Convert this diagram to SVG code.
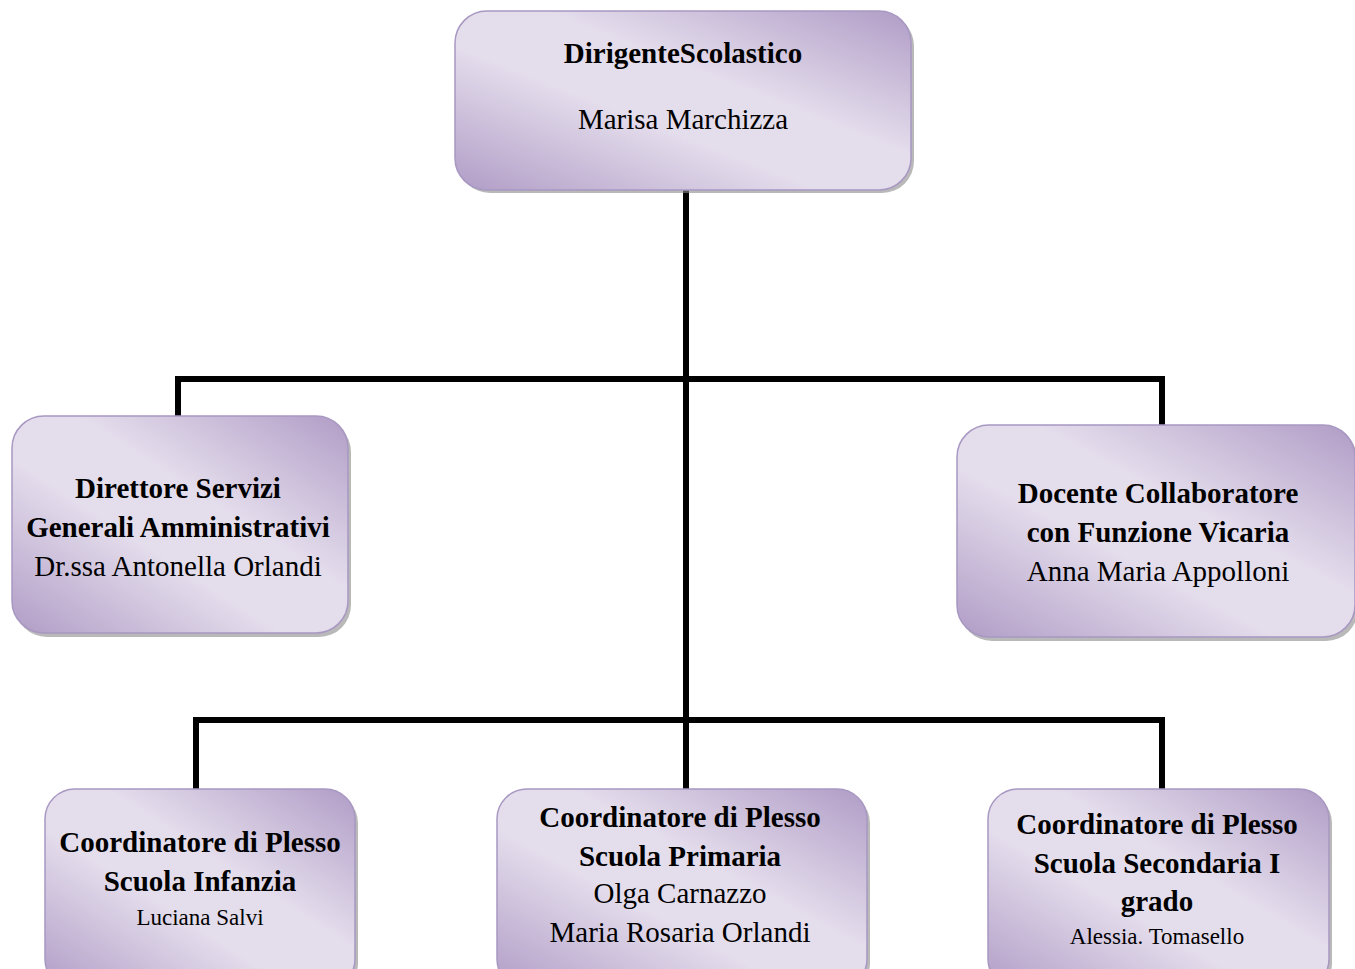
<svg xmlns="http://www.w3.org/2000/svg" width="1355" height="969" viewBox="0 0 1355 969">
<defs>
<linearGradient id="g" x1="0" y1="1" x2="1" y2="0">
<stop offset="0" stop-color="#b09cc6"/>
<stop offset="0.4" stop-color="#e4ddec"/>
<stop offset="0.6" stop-color="#e4ddec"/>
<stop offset="1" stop-color="#b09cc6"/>
</linearGradient>
<style>
.box{fill:url(#g);stroke:#a898c2;stroke-width:1.5}
.sh{fill:#8a8a8a;opacity:0.6}
.t{font-family:"Liberation Serif","Times New Roman",serif;fill:#000;text-anchor:middle}
.b{font-weight:bold;font-size:29px}
.n{font-size:29px}
.s{font-size:23px}
.c{stroke:#000;stroke-width:6;fill:none}
</style>
</defs>
<rect width="1355" height="969" fill="#fff"/>
<g id="connectors">
<path class="c" d="M686 190 V790"/>
<path class="c" d="M178 416 V379 H1162 V425"/>
<path class="c" d="M196 789 V720 H1162 V789"/>
</g>
<g id="n1">
<rect class="sh" x="458" y="14" width="456" height="179" rx="32"/>
<rect class="box" x="455" y="11" width="456" height="179" rx="32"/>
<text class="t b" x="683" y="63">DirigenteScolastico</text>
<text class="t n" x="683" y="129">Marisa Marchizza</text>
</g>
<g id="n2">
<rect class="sh" x="15" y="420" width="336" height="217" rx="32"/>
<rect class="box" x="12" y="416" width="336" height="217" rx="32"/>
<text class="t b" x="178" y="498">Direttore Servizi</text>
<text class="t b" x="178" y="537">Generali Amministrativi</text>
<text class="t n" x="178" y="576">Dr.ssa Antonella Orlandi</text>
</g>
<g id="n3">
<rect class="sh" x="960" y="429" width="398" height="212" rx="32"/>
<rect class="box" x="957" y="425" width="398" height="212" rx="32"/>
<text class="t b" x="1158" y="503">Docente Collaboratore</text>
<text class="t b" x="1158" y="542">con Funzione Vicaria</text>
<text class="t n" x="1158" y="581">Anna Maria Appolloni</text>
</g>
<g id="n4">
<rect class="sh" x="48" y="793" width="310" height="200" rx="30"/>
<rect class="box" x="45" y="789" width="310" height="200" rx="30"/>
<text class="t b" x="200" y="852">Coordinatore di Plesso</text>
<text class="t b" x="200" y="891">Scuola Infanzia</text>
<text class="t s" x="200" y="925">Luciana Salvi</text>
</g>
<g id="n5">
<rect class="sh" x="500" y="793" width="370" height="200" rx="30"/>
<rect class="box" x="497" y="789" width="370" height="200" rx="30"/>
<text class="t b" x="680" y="827">Coordinatore di Plesso</text>
<text class="t b" x="680" y="866">Scuola Primaria</text>
<text class="t n" x="680" y="903">Olga Carnazzo</text>
<text class="t n" x="680" y="942">Maria Rosaria Orlandi</text>
</g>
<g id="n6">
<rect class="sh" x="991" y="793" width="341" height="200" rx="30"/>
<rect class="box" x="988" y="789" width="341" height="200" rx="30"/>
<text class="t b" x="1157" y="834">Coordinatore di Plesso</text>
<text class="t b" x="1157" y="873">Scuola Secondaria I</text>
<text class="t b" x="1157" y="911">grado</text>
<text class="t s" x="1157" y="944">Alessia. Tomasello</text>
</g>
</svg>
